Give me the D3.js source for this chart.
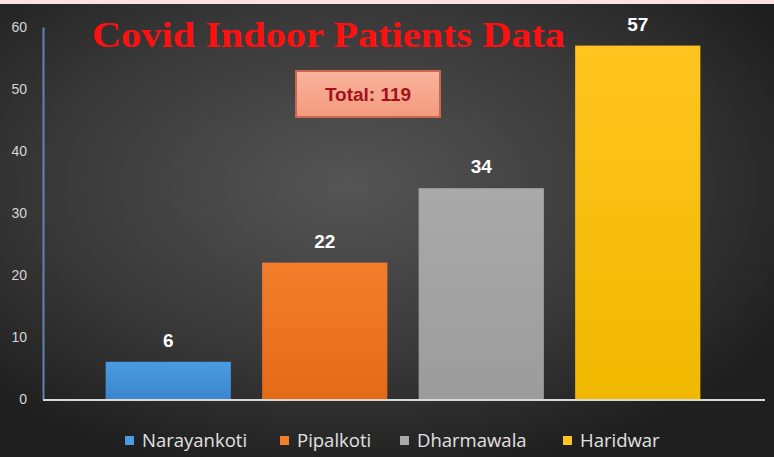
<!DOCTYPE html>
<html>
<head>
<meta charset="utf-8">
<script src="https://cdn.jsdelivr.net/npm/d3@7"></script>
<style>
  body { margin: 0; background: #fbe3e1; }
  svg { display: block; }
</style>
</head>
<body>
<div class="main"></div>
<script>
const w = 774, h = 457;

// data
const places = ['Narayankoti', 'Pipalkoti', 'Dharmawala', 'Haridwar'];
const patients = [6, 22, 34, 57];
const yTicks = [0, 10, 20, 30, 40, 50, 60];
const barColors = ['#4a9be0', '#f47d2c', '#a9a9a9', '#ffc41f'];
const barColorsDark = ['#3b86cc', '#e36b18', '#9c9c9c', '#f0b800'];
const titleText = 'Covid Indoor Patients Data';
const totalText = 'Total: 119';

const svg = d3.select('.main')
            .append('svg')
            .attr('width', w)
            .attr('height', h)

const defs = svg.append('defs')

// dark radial background
const bg = defs.append('radialGradient')
            .attr('id', 'bg')
            .attr('cx', '45%').attr('cy', '40%').attr('r', '65%')
bg.append('stop').attr('offset', '0%').attr('stop-color', '#555555')
bg.append('stop').attr('offset', '60%').attr('stop-color', '#383838')
bg.append('stop').attr('offset', '100%').attr('stop-color', '#1f1f1f')

barColors.forEach((c, i) => {
    const g = defs.append('linearGradient')
                .attr('id', 'bar' + i)
                .attr('x1', 0).attr('y1', 0).attr('x2', 0).attr('y2', 1)
    g.append('stop').attr('offset', '0%').attr('stop-color', c)
    g.append('stop').attr('offset', '100%').attr('stop-color', barColorsDark[i])
})

const boxGrad = defs.append('linearGradient')
                .attr('id', 'box')
                .attr('x1', 0).attr('y1', 0).attr('x2', 0).attr('y2', 1)
boxGrad.append('stop').attr('offset', '0%').attr('stop-color', '#f9b49c')
boxGrad.append('stop').attr('offset', '100%').attr('stop-color', '#f39a7e')

svg.append('rect')
    .attr('x', 0).attr('y', 4)
    .attr('width', w).attr('height', h - 4)
    .attr('fill', 'url(#bg)')

const x = d3.scaleBand()
            .domain(places)
            .range([90, 716])
            .paddingInner(0.2)
            .paddingOuter(0.1)

const y = d3.scaleLinear()
            .domain([0, 60])
            .range([399, 27])

// y axis
const yAxis = svg.append('g')
            .attr('transform', 'translate(43, 0)')
            .call(d3.axisLeft(y).tickValues(yTicks).tickSize(0).tickPadding(10))
yAxis.select('.domain')
    .attr('stroke', '#5f86ad')
    .attr('stroke-width', 2)
yAxis.selectAll('text')
    .attr('fill', '#d6d6d6')
    .attr('font-family', 'Liberation Sans, sans-serif')
    .attr('font-size', 14)
    .attr('dx', -6)

// bars
svg.selectAll('.bar')
    .data(patients)
    .enter()
    .append('rect')
    .attr('class', 'bar')
    .attr('x', (d, i) => x(places[i]))
    .attr('y', d => y(d))
    .attr('width', x.bandwidth())
    .attr('height', d => y(0) - y(d))
    .attr('fill', (d, i) => `url(#bar${i})`)

// x axis line
svg.append('line')
    .attr('x1', 43).attr('x2', 765)
    .attr('y1', y(0) + 1).attr('y2', y(0) + 1)
    .attr('stroke', '#d8d8d8')
    .attr('stroke-width', 2)

// value labels
svg.selectAll('.val')
    .data(patients)
    .enter()
    .append('text')
    .attr('class', 'val')
    .attr('x', (d, i) => x(places[i]) + x.bandwidth() / 2)
    .attr('y', d => y(d) - 15)
    .attr('text-anchor', 'middle')
    .attr('fill', '#ffffff')
    .attr('font-family', 'Liberation Sans, sans-serif')
    .attr('font-weight', 'bold')
    .attr('font-size', 19)
    .text(d => d)

// title
svg.append('text')
    .attr('x', 92)
    .attr('y', 47)
    .attr('fill', '#ff1010')
    .attr('font-family', 'Liberation Serif, serif')
    .attr('font-weight', 'bold')
    .attr('font-size', 36)
    .attr('textLength', 473)
    .attr('lengthAdjust', 'spacingAndGlyphs')
    .text(titleText)

// total box
svg.append('rect')
    .attr('x', 296).attr('y', 71)
    .attr('width', 144).attr('height', 46)
    .attr('fill', 'url(#box)')
    .attr('stroke', '#c8684e')
    .attr('stroke-width', 2)
svg.append('text')
    .attr('x', 368)
    .attr('y', 101)
    .attr('text-anchor', 'middle')
    .attr('fill', '#a3121a')
    .attr('font-family', 'Liberation Sans, sans-serif')
    .attr('font-weight', 'bold')
    .attr('font-size', 19)
    .text(totalText)

// legend
const legendX = [125, 280, 400, 563];
const legend = svg.append('g')
            .attr('class', 'legend')
const item = legend.selectAll('g')
            .data(places)
            .enter()
            .append('g')
            .attr('transform', (d, i) => `translate(${legendX[i]}, 440)`)
item.append('rect')
    .attr('x', 0).attr('y', -4)
    .attr('width', 9).attr('height', 9)
    .attr('fill', (d, i) => barColors[i])
item.append('text')
    .attr('x', 17)
    .attr('y', 7)
    .attr('fill', '#e2e2e2')
    .attr('font-family', 'Open Sans, sans-serif')
    .attr('font-size', 18.5)
    .text(d => d)
</script>
</body>
</html>
